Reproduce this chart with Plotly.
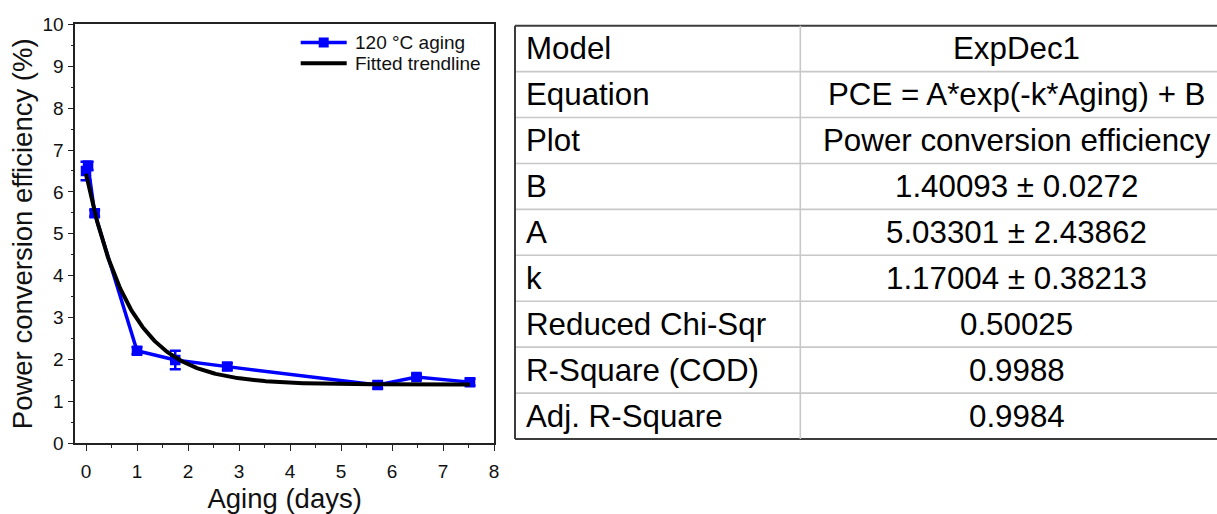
import numpy as np
import plotly.graph_objects as go

# Measured power conversion efficiency during 120 °C aging
aging_days = [0.0, 0.04, 0.17, 1.0, 1.75, 2.77, 5.72, 6.48, 7.53]
pce = [6.50, 6.62, 5.49, 2.21, 1.99, 1.83, 1.39, 1.58, 1.46]
pce_err = [0.22, 0.10, 0.08, 0.08, 0.22, 0.08, 0.08, 0.06, 0.08]

# ExpDec1 fit parameters (PCE = A*exp(-k*Aging) + B)
fit_A = 5.03301
fit_k = 1.17004
fit_B = 1.40093

# Fit summary table
table_labels = ["Model", "Equation", "Plot", "B", "A", "k",
                "Reduced Chi-Sqr", "R-Square (COD)", "Adj. R-Square"]
table_values = ["ExpDec1", "PCE = A*exp(-k*Aging) + B", "Power conversion efficiency",
                "1.40093 ± 0.0272", "5.03301 ± 2.43862", "1.17004 ± 0.38213",
                "0.50025", "0.9988", "0.9984"]

series_names = ["120 °C aging", "Fitted trendline"]

W, H = 1217, 514
FONT = "Liberation Sans, Arial, sans-serif"
BLUE = "#0000ff"

fit_x = np.linspace(0, max(aging_days), 300)
fit_y = fit_A * np.exp(-fit_k * fit_x) + fit_B

fig = go.Figure()
fig.add_trace(go.Scatter(
    x=aging_days, y=pce, mode="lines+markers", name=series_names[0],
    line=dict(color=BLUE, width=3.5),
    marker=dict(symbol="square", size=10.5, color=BLUE),
    error_y=dict(type="data", array=pce_err, color=BLUE, thickness=2.5, width=5.5),
    showlegend=False,
))
fig.add_trace(go.Scatter(
    x=fit_x, y=fit_y, mode="lines", name=series_names[1],
    line=dict(color="#000000", width=4),
    showlegend=False,
))

# Plot area in pixels
px_l, px_r, px_t, px_b = 75.3, 494.0, 24.3, 443.3

axis_common = dict(
    showline=True, linecolor="#222222", linewidth=1.6, mirror=True,
    ticks="outside", ticklen=6, tickwidth=1.4, tickcolor="#222222",
    showgrid=False, zeroline=False, automargin=False,
    tickfont=dict(family=FONT, size=19, color="#111111"),
    minor=dict(ticks="outside", ticklen=3, tickwidth=1.2, tickcolor="#222222", dtick=0.5),
)

fig.update_layout(
    width=W, height=H,
    margin=dict(l=0, r=0, t=0, b=0, autoexpand=False),
    paper_bgcolor="white", plot_bgcolor="white",
    font=dict(family=FONT, color="#111111"),
    showlegend=False,
    xaxis=dict(
        domain=[px_l / W, px_r / W], range=[-0.21, 8], dtick=1,
        ticklabelstandoff=4,
        title=dict(text="Aging (days)", font=dict(family=FONT, size=27.5), standoff=14),
        **axis_common,
    ),
    yaxis=dict(
        domain=[1 - px_b / H, 1 - px_t / H], range=[0, 10], dtick=1,
        title=dict(text="Power conversion efficiency (%)", font=dict(family=FONT, size=27.5), standoff=2),
        **axis_common,
    ),
)

shapes = []
annotations = []

# Legend: line samples with labels in the upper right of the plot
leg_x0, leg_x1, leg_text_x = 300.7, 346.7, 352.7
leg_rows = [42.5, 63.3]
shapes.append(dict(type="line", xref="paper", yref="paper",
                   x0=leg_x0 / W, x1=leg_x1 / W, y0=1 - leg_rows[0] / H, y1=1 - leg_rows[0] / H,
                   line=dict(color=BLUE, width=3.5)))
mid = (leg_x0 + leg_x1) / 2
shapes.append(dict(type="rect", xref="paper", yref="paper",
                   x0=(mid - 5) / W, x1=(mid + 5) / W,
                   y0=1 - (leg_rows[0] + 5) / H, y1=1 - (leg_rows[0] - 5) / H,
                   fillcolor=BLUE, line=dict(width=0)))
shapes.append(dict(type="line", xref="paper", yref="paper",
                   x0=leg_x0 / W, x1=leg_x1 / W, y0=1 - leg_rows[1] / H, y1=1 - leg_rows[1] / H,
                   line=dict(color="#000000", width=4)))
for name, yy in zip(series_names, leg_rows):
    annotations.append(dict(
        text=name, xref="paper", yref="paper", x=leg_text_x / W, y=1 - yy / H,
        xanchor="left", yanchor="middle", showarrow=False,
        font=dict(family=FONT, size=19, color="#111111"),
    ))

# Fit summary table drawn as lines and text
tb_left, tb_top, tb_bottom, tb_div = 515.0, 25.7, 439.0, 800.3
tb_right = W
row_h = (tb_bottom - tb_top) / len(table_labels)
val_center = 1016.5
TABLE_FONT = 31.3

for i in range(len(table_labels) + 1):
    yy = tb_top + i * row_h
    outer = i in (0, len(table_labels))
    shapes.append(dict(
        type="line", xref="paper", yref="paper",
        x0=tb_left / W, x1=tb_right / W, y0=1 - yy / H, y1=1 - yy / H,
        line=dict(color="#3c3c3c" if outer else "#c8c8c8", width=2 if outer else 1.6),
    ))
shapes.append(dict(type="line", xref="paper", yref="paper",
                   x0=tb_left / W, x1=tb_left / W, y0=1 - tb_top / H, y1=1 - tb_bottom / H,
                   line=dict(color="#3c3c3c", width=2)))
shapes.append(dict(type="line", xref="paper", yref="paper",
                   x0=tb_div / W, x1=tb_div / W, y0=1 - tb_top / H, y1=1 - tb_bottom / H,
                   line=dict(color="#c8c8c8", width=1.6)))

for i, (lab, val) in enumerate(zip(table_labels, table_values)):
    yc = tb_top + (i + 0.5) * row_h
    annotations.append(dict(
        text=lab, xref="paper", yref="paper", x=524 / W, y=1 - yc / H,
        xanchor="left", yanchor="middle", showarrow=False,
        font=dict(family=FONT, size=TABLE_FONT, color="#000000"),
    ))
    annotations.append(dict(
        text=val, xref="paper", yref="paper", x=val_center / W, y=1 - yc / H,
        xanchor="center", yanchor="middle", showarrow=False,
        font=dict(family=FONT, size=TABLE_FONT, color="#000000"),
    ))

fig.update_layout(shapes=shapes, annotations=annotations)

fig.write_html("out.html")
